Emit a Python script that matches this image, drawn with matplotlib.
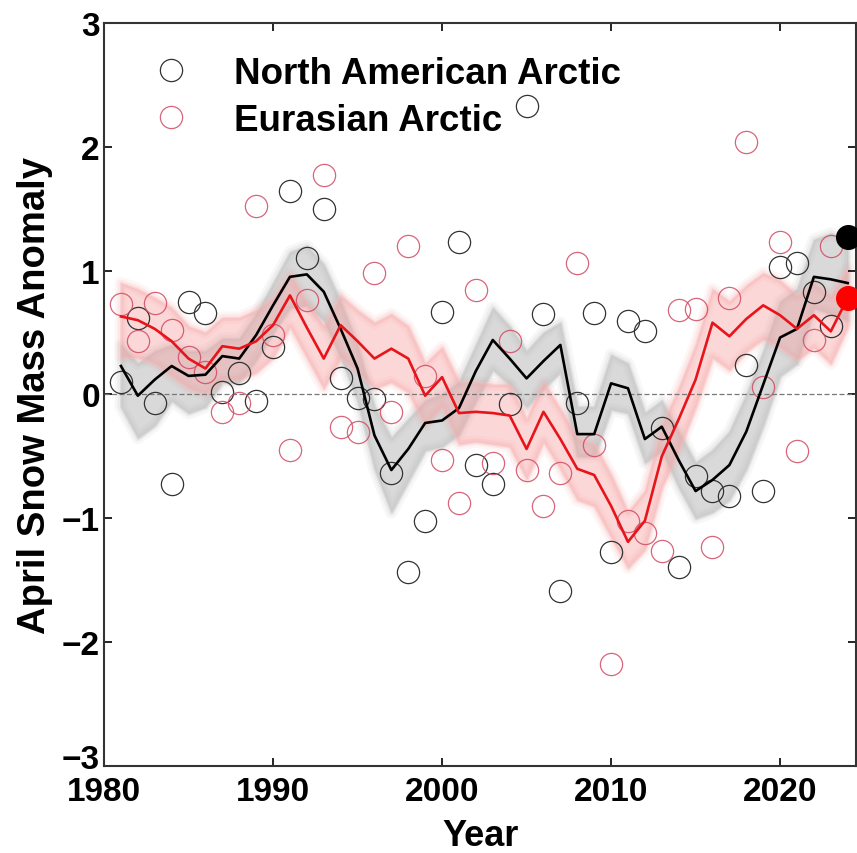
import matplotlib
matplotlib.use("Agg")
import matplotlib.pyplot as plt
import matplotlib.transforms as mtransforms

years = list(range(1981, 2025))

# yearly anomalies (open circles), 1981-2023
na_obs = [0.10, 0.62, -0.07, -0.72, 0.75, 0.66, 0.02, 0.17, -0.05, 0.38,
          1.64, 1.10, 1.50, 0.13, -0.03, -0.04, -0.63, -1.43, -1.02, 0.67,
          1.23, -0.57, -0.72, -0.08, 2.33, 0.65, -1.59, -0.07, 0.66, -1.27,
          0.59, 0.51, -0.27, -1.39, -0.66, -0.78, -0.82, 0.24, -0.78, 1.03,
          1.06, 0.83, 0.55]
eu_obs = [0.73, 0.43, 0.74, 0.52, 0.30, 0.18, -0.14, -0.07, 1.52, 0.48,
          -0.45, 0.76, 1.77, -0.26, -0.30, 0.98, -0.14, 1.20, 0.15, -0.53,
          -0.88, 0.84, -0.55, 0.43, -0.61, -0.90, -0.63, 1.06, -0.41, -2.18,
          -1.02, -1.12, -1.26, 0.68, 0.69, -1.23, 0.78, 2.04, 0.06, 1.23,
          -0.46, 0.44, 1.20]

# 2024 values (filled dots)
na_2024 = 1.27
eu_2024 = 0.78

# smoothed curves 1981-2024 and their spread
na_mean = [0.23, -0.01, 0.12, 0.23, 0.15, 0.16, 0.31, 0.29, 0.48, 0.72,
           0.95, 0.97, 0.83, 0.53, 0.21, -0.33, -0.61, -0.44, -0.23, -0.21,
           -0.11, 0.19, 0.44, 0.29, 0.13, 0.27, 0.40, -0.32, -0.32, 0.09,
           0.05, -0.36, -0.26, -0.53, -0.78, -0.69, -0.57, -0.30, 0.08, 0.46,
           0.53, 0.95, 0.93, 0.90]
na_lo = [-0.10, -0.35, -0.25, -0.05, -0.15, -0.10, 0.10, 0.10, 0.28, 0.50,
         0.70, 0.72, 0.60, 0.30, -0.05, -0.60, -0.95, -0.70, -0.45, -0.42,
         -0.32, -0.05, 0.20, 0.08, -0.10, 0.05, 0.18, -0.50, -0.50, -0.12,
         -0.15, -0.55, -0.45, -0.75, -1.00, -0.95, -0.85, -0.60, -0.25, 0.15,
         0.25, 0.70, 0.65, 0.60]
na_hi = [0.40, 0.25, 0.35, 0.40, 0.35, 0.35, 0.45, 0.45, 0.65, 0.90,
         1.15, 1.20, 1.05, 0.75, 0.40, -0.10, -0.35, -0.20, -0.05, 0.00,
         0.10, 0.40, 0.70, 0.55, 0.35, 0.50, 0.58, -0.10, -0.10, 0.32,
         0.25, -0.15, -0.05, -0.30, -0.55, -0.45, -0.30, 0.00, 0.35, 0.75,
         0.85, 1.25, 1.30, 1.25]

eu_mean = [0.63, 0.60, 0.53, 0.43, 0.29, 0.21, 0.39, 0.37, 0.43, 0.56,
           0.80, 0.54, 0.29, 0.56, 0.43, 0.29, 0.37, 0.29, -0.01, 0.14,
           -0.15, -0.14, -0.15, -0.17, -0.44, -0.14, -0.36, -0.60, -0.65, -0.90,
           -1.19, -1.02, -0.50, -0.20, 0.12, 0.58, 0.47, 0.61, 0.72, 0.64,
           0.53, 0.64, 0.51, 0.78]
eu_lo = [0.30, 0.30, 0.25, 0.15, 0.05, 0.00, 0.12, 0.12, 0.18, 0.30,
         0.55, 0.30, 0.05, 0.30, 0.18, 0.05, 0.10, 0.02, -0.25, -0.10,
         -0.40, -0.38, -0.40, -0.42, -0.68, -0.38, -0.60, -0.85, -0.90, -1.15,
         -1.40, -1.25, -0.75, -0.45, -0.10, 0.30, 0.20, 0.35, 0.45, 0.38,
         0.28, 0.38, 0.25, 0.55]
eu_hi = [0.90, 0.85, 0.78, 0.70, 0.55, 0.50, 0.62, 0.62, 0.68, 0.78,
         0.98, 0.75, 0.55, 0.80, 0.68, 0.58, 0.65, 0.55, 0.25, 0.38,
         0.10, 0.10, 0.08, 0.08, -0.20, 0.10, -0.12, -0.35, -0.40, -0.65,
         -0.95, -0.78, -0.25, 0.05, 0.40, 0.85, 0.75, 0.88, 0.98, 0.92,
         0.80, 0.90, 0.80, 1.02]

xticks = [1980, 1990, 2000, 2010, 2020]
yticks = [-3, -2, -1, 0, 1, 2, 3]

plt.rcParams["font.family"] = ["Liberation Sans", "DejaVu Sans"]
plt.rcParams["font.weight"] = "bold"

fig = plt.figure(figsize=(8.57, 8.54), dpi=100)
ax = fig.add_axes([0.1214, 0.1019, 0.8776, 0.870])

obs_years = years[:-1]

# soft-edged bands: a few strokes of growing width under the core fill
for lw, a in [(9, 0.10), (5, 0.15)]:
    ax.fill_between(years, na_lo, na_hi, facecolor="none", edgecolor="#b4b4b4",
                    lw=lw, alpha=a, zorder=1)
    ax.fill_between(years, eu_lo, eu_hi, facecolor="none", edgecolor="#f7a0a0",
                    lw=lw, alpha=a, zorder=1)
ax.fill_between(years, na_lo, na_hi, color="#b4b4b4", alpha=0.5, lw=2,
                edgecolor="#c8c8c8", zorder=1)
ax.fill_between(years, eu_lo, eu_hi, color="#f7a0a0", alpha=0.42, lw=2,
                edgecolor="#f8b8b8", zorder=1)

ax.axhline(0, color="#777777", lw=0.9, ls=(0, (4, 2)), zorder=2)

ax.plot(obs_years, na_obs, "o", ms=16, mfc="none", mec="#333333", mew=0.9,
        label="North American Arctic", zorder=3)
ax.plot(obs_years, eu_obs, "o", ms=16, mfc="none", mec="#d24a62", mew=0.9,
        alpha=0.85, label="Eurasian Arctic", zorder=3)

ax.plot(years, na_mean, color="black", lw=1.9, zorder=4)
ax.plot(years, eu_mean, color="#e8141a", lw=1.9, zorder=4)

ax.plot([2024], [na_2024], "o", ms=17, color="black", zorder=5, clip_on=False)
ax.plot([2024], [eu_2024], "o", ms=17, color="red", zorder=5, clip_on=False)

ax.set_xlim(1980, 2024.5)
ax.set_ylim(-3, 3)
ax.set_xticks(xticks)
ax.set_yticks(yticks)
ax.set_yticklabels([str(v).replace("-", "\u2212") for v in yticks])
ax.tick_params(direction="in", length=6, width=1.2, top=True, right=True,
               labelsize=24)
ax.tick_params(axis="x", pad=7)
ax.tick_params(axis="y", pad=3)
for lab in ax.get_xticklabels() + ax.get_yticklabels():
    lab.set_fontweight("bold")
# lift the bottom y label clear of the first year label
low = ax.get_yticklabels()[0]
low.set_transform(low.get_transform() +
                  mtransforms.ScaledTranslation(0, 7 / 72, fig.dpi_scale_trans))
for sp in ax.spines.values():
    sp.set_linewidth(1.5)
    sp.set_color("#333333")

ax.set_xlabel("Year", fontsize=26, fontweight="bold", labelpad=8)
ax.set_ylabel("April Snow Mass Anomaly", fontsize=27.5, fontweight="bold",
              labelpad=6)

ax.legend(loc="upper left", frameon=False, handletextpad=0.72,
          borderaxespad=0.3, labelspacing=0.33, bbox_to_anchor=(0.006, 0.990),
          prop={"weight": "bold", "size": 26.5})

fig.savefig("out.png", dpi=100)
